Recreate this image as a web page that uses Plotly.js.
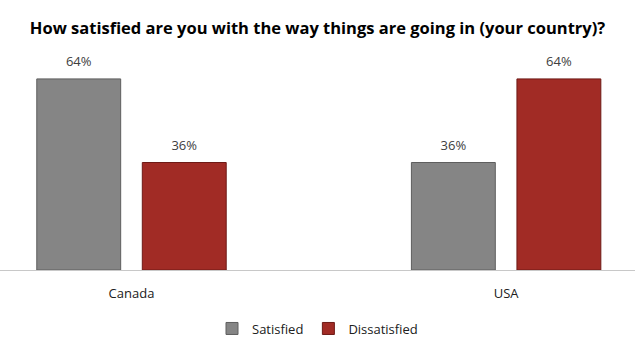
<!DOCTYPE html>
<html><head><meta charset="utf-8">
<script src="https://cdn.plot.ly/plotly-3.0.1.min.js"></script>
<style>html,body{margin:0;padding:0;background:#fff}#chart{width:635px;height:357px}</style>
</head><body><div id="chart"></div>
<script>
const categories = ["Canada", "USA"];
const satisfied = [64, 36];
const dissatisfied = [36, 64];
const seriesNames = ["Satisfied", "Dissatisfied"];

const font = "Open Sans, Noto Sans, sans-serif";
const colors = ["#858585", "#a12b25"];
const edges = ["#5e5e5e", "#6e1a16"];
const series = [satisfied, dissatisfied];

const traces = [];
series.forEach((vals, i) => {
  traces.push({type:"bar", name:seriesNames[i], x:categories, y:vals,
    offsetgroup:String(i), alignmentgroup:"a",
    marker:{color:colors[i], line:{color:edges[i], width:1}}});
});
series.forEach((vals, i) => {
  traces.push({type:"scatter", mode:"markers+text", x:categories, y:vals,
    offsetgroup:String(i), alignmentgroup:"a", showlegend:false, cliponaxis:false,
    marker:{size:14, opacity:0}, text:vals.map(v => v + "%"), textposition:"top center",
    textfont:{family:font, size:13, color:"#404040"}});
});

const layout = {
  width:635, height:357,
  margin:{l:0, r:0, t:61, b:87},
  paper_bgcolor:"#fff", plot_bgcolor:"#fff",
  title:{text:"<b>How satisfied are you with the way things are going in (your country)?</b>",
         font:{family:font, size:16.5, color:"#000"}, x:0.5, xanchor:"center", y:0.92, yanchor:"middle"},
  barmode:"group", scattermode:"group", bargap:0.4366, bargroupgap:0.205,
  xaxis:{type:"category", range:[-0.351, 1.344], showline:true, linecolor:"#c8c8c8", linewidth:1,
         ticks:"", ticklabelstandoff:11, tickfont:{family:font, size:13, color:"#202020"}, fixedrange:true},
  yaxis:{range:[0,70], visible:false, showgrid:false, zeroline:false},
  showlegend:true,
  legend:{orientation:"h", x:0.5, xanchor:"center", y:-0.28, yanchor:"middle",
          font:{family:font, size:13, color:"#202020"}, itemwidth:30, traceorder:"normal"}
};
Plotly.newPlot("chart", traces, layout, {displayModeBar:false, staticPlot:true});
</script></body></html>
